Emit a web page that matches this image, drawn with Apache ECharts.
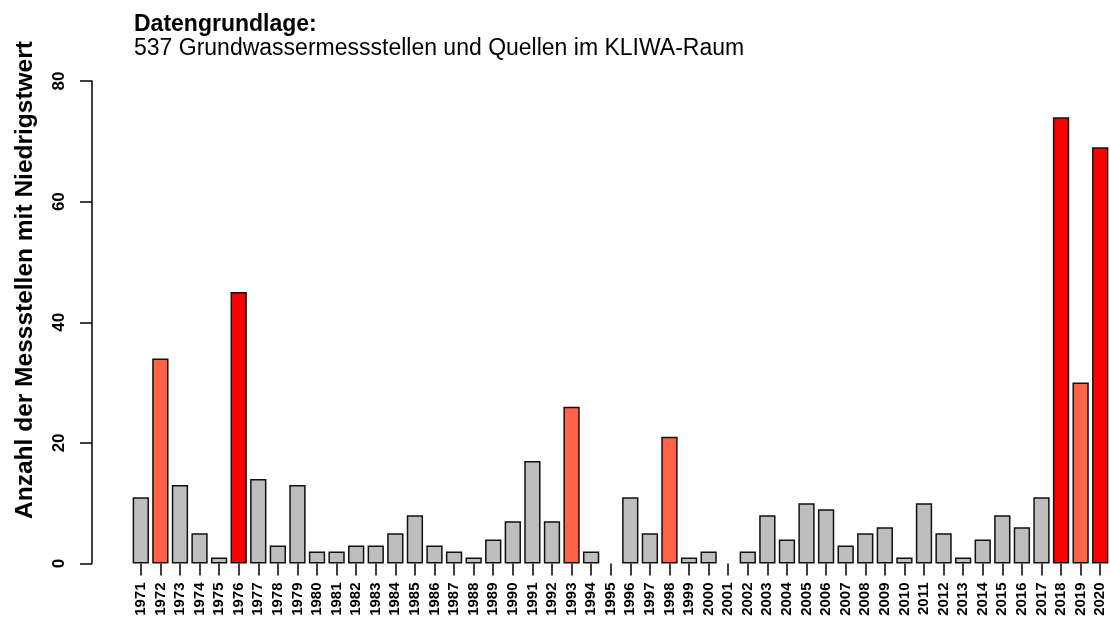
<!DOCTYPE html>
<html>
<head>
<meta charset="utf-8">
<script src="https://cdn.jsdelivr.net/npm/echarts@6/dist/echarts.min.js"></script>
<style>
  html, body { margin: 0; padding: 0; background: #fff; }
  #canvas { width: 1110px; height: 619px; }
</style>
</head>
<body>
<div id="canvas"></div>
<script>
// Jahre (Kategorien)
var years = ['1971','1972','1973','1974','1975','1976','1977','1978','1979','1980',
             '1981','1982','1983','1984','1985','1986','1987','1988','1989','1990',
             '1991','1992','1993','1994','1995','1996','1997','1998','1999','2000',
             '2001','2002','2003','2004','2005','2006','2007','2008','2009','2010',
             '2011','2012','2013','2014','2015','2016','2017','2018','2019','2020'];
// Anzahl der Messstellen mit Niedrigstwert
var counts = [11, 34, 13, 5, 1, 45, 14, 3, 13, 2,
              2, 3, 3, 5, 8, 3, 2, 1, 4, 7,
              17, 7, 26, 2, 0, 11, 5, 21, 1, 2,
              0, 2, 8, 4, 10, 9, 3, 5, 6, 1,
              10, 5, 1, 4, 8, 6, 11, 74, 30, 69];
// Jahre mit den meisten / vielen Niedrigstwerten
var extremeYears = ['1976', '2018', '2020'];
var severeYears = ['1972', '1993', '1998', '2019'];
var yTicks = [0, 20, 40, 60, 80];

var fontFam = '"Liberation Sans", Arial, sans-serif';

let drawChart = function () {
    var dom = document.getElementById("canvas");
    var myChart = echarts.init(dom, null, { renderer: 'canvas' });

    var barData = counts.map(function (v, i) {
        var c = '#bebebe';
        if (extremeYears.indexOf(years[i]) >= 0) c = '#ff0000';
        else if (severeYears.indexOf(years[i]) >= 0) c = '#ff6347';
        // leere Jahre ohne Rahmen (wie im Original)
        return { value: v, itemStyle: { color: c, borderWidth: v === 0 ? 0 : 1.5 } };
    });

    var option = {
        animation: false,
        backgroundColor: '#ffffff',
        title: {
            text: 'Datengrundlage:',
            subtext: '537 Grundwassermessstellen und Quellen im KLIWA-Raum',
            left: 134,
            top: 13,
            itemGap: 0,
            padding: 0,
            textStyle: { fontFamily: fontFam, fontWeight: 'bold', fontSize: 23, lineHeight: 24, color: '#000' },
            subtextStyle: { fontFamily: fontFam, fontWeight: 'normal', fontSize: 23, lineHeight: 24, color: '#000' }
        },
        graphic: [{
            type: 'text',
            x: 25,
            y: 280,
            rotation: Math.PI / 2,
            style: {
                text: 'Anzahl der Messstellen mit Niedrigstwert',
                fontFamily: fontFam,
                fontWeight: 'bold',
                fontSize: 24.5,
                fill: '#000',
                align: 'center',
                verticalAlign: 'middle'
            }
        }],
        grid: { left: 131, top: 81, width: 980, height: 482.5 },
        xAxis: {
            type: 'category',
            data: years,
            axisLine: { show: false },
            axisTick: { show: true, alignWithLabel: true, length: 12, lineStyle: { color: '#000', width: 1.5 } },
            axisLabel: {
                interval: 0,
                rotate: 90,
                margin: 19,
                fontFamily: fontFam,
                fontWeight: 'bold',
                fontSize: 15,
                color: '#000'
            },
            splitLine: { show: false }
        },
        yAxis: {
            type: 'value',
            min: yTicks[0],
            max: yTicks[yTicks.length - 1],
            interval: yTicks[1] - yTicks[0],
            offset: 39,
            axisLine: { show: true, lineStyle: { color: '#000', width: 1.5 } },
            axisTick: { show: true, length: 12, lineStyle: { color: '#000', width: 1.5 } },
            axisLabel: {
                rotate: 90,
                margin: 24,
                fontFamily: fontFam,
                fontWeight: 'bold',
                fontSize: 17,
                color: '#000'
            },
            splitLine: { show: false }
        },
        series: [{
            type: 'bar',
            data: barData,
            barCategoryGap: '16.7%',
            silent: true,
            itemStyle: { borderColor: '#111', borderWidth: 1.5 }
        }]
    };
    myChart.setOption(option, true);
};
drawChart();
</script>
</body>
</html>
